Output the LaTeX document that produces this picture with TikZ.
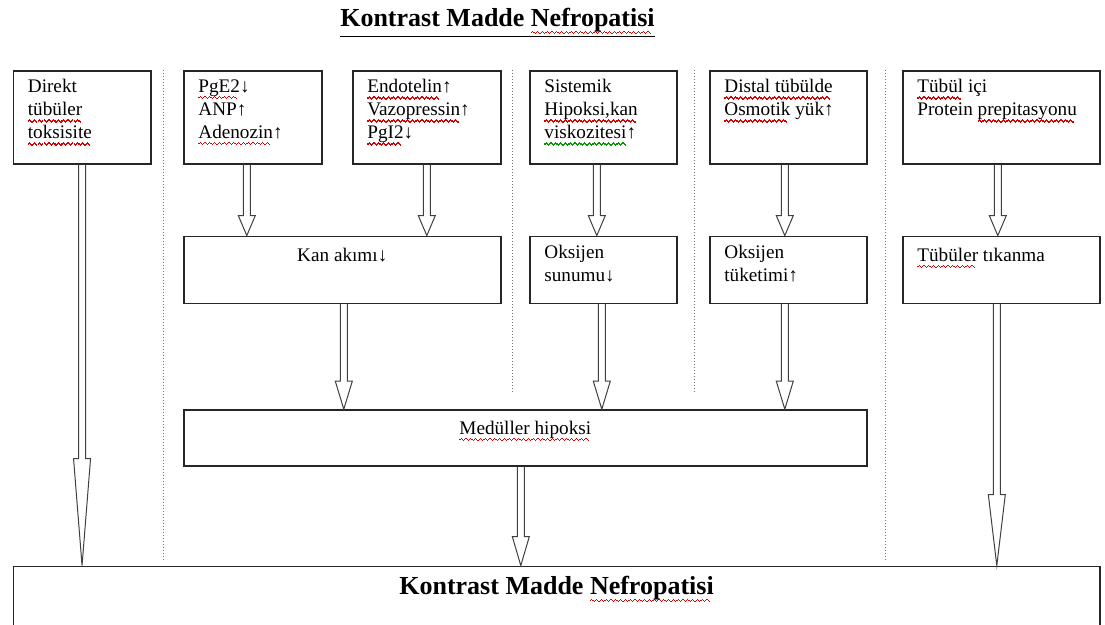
\documentclass[tikz,border=0pt]{standalone}
\usepackage{fontspec}
\setmainfont{Liberation Serif}
\usetikzlibrary{positioning,calc}

% spell-check waves under words
\newsavebox\wavebox
\newcommand\wavepiece[1]{\hbox{{\color{#1}\rule[-2.9pt]{0.6pt}{0.6pt}\rule[-2.4pt]{0.6pt}{0.6pt}%
  \rule[-2.9pt]{0.6pt}{0.6pt}\rule[-3.4pt]{0.6pt}{0.6pt}}}}
\newcommand\squig[2]{\sbox\wavebox{#2}%
  \rlap{\hbox to\wd\wavebox{\leaders\wavepiece{#1}\hfill}}\usebox\wavebox}
\newcommand\spl[1]{\squig{red!85!black}{#1}}
\newcommand\grm[1]{\squig{green!60!black}{#1}}

% hollow block arrow: [x offset]{from}{to}{head length}
\newcommand\blkarrow[4][0]{%
  \draw[blk] let \p1=($(#2.south)+(#1,0)$), \p2=(#3.north) in
    (\x1-1.75pt,\y1) -- (\x1-1.75pt,\y2+#4) -- (\x1-4.25pt,\y2+#4)
    -- (\x1,\y2) -- (\x1+4.25pt,\y2+#4) -- (\x1+1.75pt,\y2+#4)
    -- (\x1+1.75pt,\y1);
}

\begin{document}
\begin{tikzpicture}[
  x=0.5pt, y=0.5pt,
  font=\fontsize{9.6}{11.5}\selectfont,
  box/.style    = {draw=black!85, line width=0.8pt, inner sep=0pt},
  upbox/.style  = {box, anchor=north west, minimum height=46.5pt},
  midbox/.style = {box, minimum height=33.5pt},
  txtl/.style   = {anchor=north west, align=left, inner sep=0pt,
                   xshift=7.5pt, yshift=-4.5pt, execute at begin node=\strut},
  txtc/.style   = {anchor=north, inner sep=0pt, yshift=-4.5pt,
                   execute at begin node=\strut},
  sep/.style    = {draw=black!55, densely dotted, line width=0.5pt},
  blk/.style    = {draw=black!75, line width=0.5pt, line join=miter},
  big/.style    = {font=\fontsize{13}{15}\selectfont\bfseries}
]
\clip (0,0) rectangle (1105,625);

\node[big, anchor=base] (title) at (497.5,598)
  {\underline{Kontrast Madde \spl{Nefropatisi}}};

% top row
\node[upbox, minimum width=68.75pt,
  label={[txtl]north west:{Direkt\\\spl{tübüler}\\\spl{toksisite}}}]
  (dir) at (12.5,555) {};
\node[upbox, minimum width=69pt,
  label={[txtl]north west:{\spl{PgE2}↓\\ANP↑\\\spl{Adenozin}↑}}]
  (pge) at (183,555) {};
\node[upbox, minimum width=74pt,
  label={[txtl]north west:{\spl{Endotelin}↑\\\spl{Vazopressin}↑\\\spl{PgI2}↓}}]
  (endo) at (352,555) {};
\node[upbox, minimum width=73.5pt,
  label={[txtl]north west:{Sistemik\\\spl{Hipoksi,kan}\\\grm{viskozitesi}↑}}]
  (sis) at (529,555) {};
\node[upbox, minimum width=78.5pt,
  label={[txtl]north west:{\spl{Distal tübülde}\\\spl{Osmotik} yük↑}}]
  (dist) at (709,555) {};
\node[upbox, minimum width=98.5pt,
  label={[txtl]north west:{\spl{Tübül} içi\\Protein \spl{prepitasyonu}}}]
  (tub) at (902,555) {};

% second row
\node[midbox, minimum width=158.5pt, below right=35.5pt and 0pt of pge.south west,
  label={[txtc]north:Kan akımı↓}] (kan) {};
\node[midbox, minimum width=73.5pt, below=35.5pt of sis,
  label={[txtl]north west:{Oksijen\\sunumu↓}}] (sun) {};
\node[midbox, minimum width=78.5pt, below=35.5pt of dist,
  label={[txtl]north west:{Oksijen\\tüketimi↑}}] (tuk) {};
\node[midbox, minimum width=98.5pt, below=35.5pt of tub,
  label={[txtl]north west:{\spl{Tübüler} tıkanma}}] (tik) {};

\node[box, minimum width=341.5pt, minimum height=28pt,
  below right=52.5pt and 0pt of kan.south west,
  label={[txtc]north:\spl{Medüller hipoksi}}] (med) {};

\node[box, minimum width=543.25pt, minimum height=80pt,
  below right=200.5pt and 0pt of dir.south west,
  label={[txtc, big, yshift=0.5pt]north:Kontrast Madde \spl{Nefropatisi}}] (kmn) {};

% dotted separators
\foreach \sx/\sy in {163/63, 512/232, 694/232, 885/63}
  \draw[sep] (\sx,555) -- (\sx,\sy);

% arrows
\blkarrow{dir}{kmn}{53.5pt}
\blkarrow[-6]{pge}{kan}{10pt}
\blkarrow{endo}{kan}{10pt}
\blkarrow[-6.5]{sis}{sun}{10pt}
\blkarrow[-3.5]{dist}{tuk}{10pt}
\blkarrow[-3.5]{tub}{tik}{10pt}
\blkarrow[1.5]{kan}{med}{14pt}
\blkarrow[-1.5]{sun}{med}{14pt}
\blkarrow[-3.5]{tuk}{med}{14pt}
\blkarrow[-4.5]{med}{kmn}{14.5pt}
\blkarrow[-4.5]{tik}{kmn}{35.5pt}

\end{tikzpicture}
\end{document}
